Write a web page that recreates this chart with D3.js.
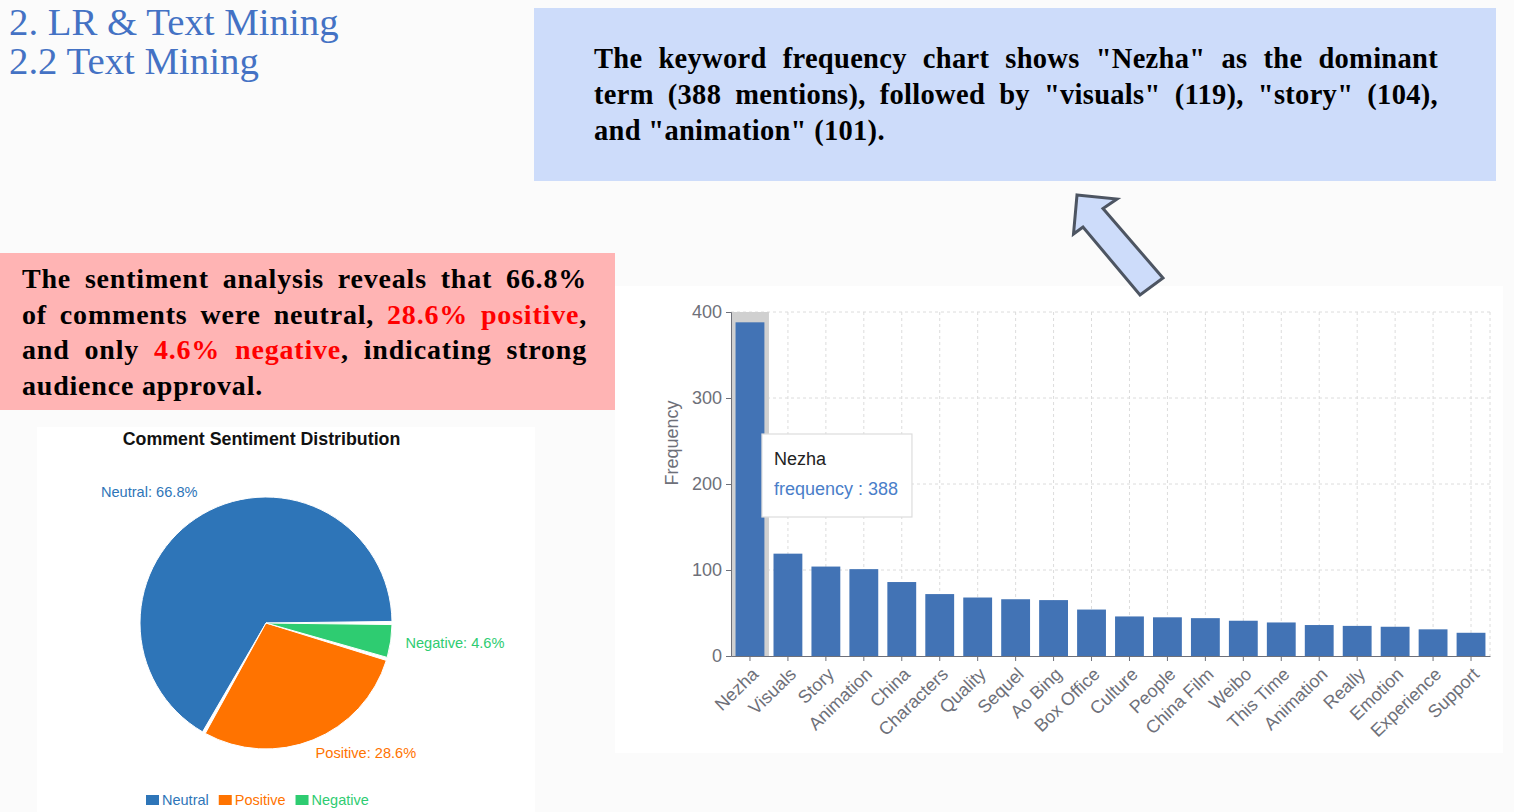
<!DOCTYPE html>
<html><head><meta charset="utf-8">
<script src="https://cdn.jsdelivr.net/npm/d3@7/dist/d3.min.js"></script>
<style>html,body{margin:0;padding:0;background:#fbfbfb;overflow:hidden}</style>
</head><body>
<svg id="c" width="1514" height="812"></svg>
<script>
// ---------- data ----------
const keywords = ["Nezha","Visuals","Story","Animation","China","Characters","Quality","Sequel","Ao Bing","Box Office","Culture","People","China Film","Weibo","This Time","Animation","Really","Emotion","Experience","Support"];
const frequencies = [388,119,104,101,86,72,68,66,65,54,46,45,44,41,39,36,35,34,31,27];
const yTicks = [0,100,200,300,400];
const sentimentLabels = ["Neutral","Positive","Negative"];
const sentimentValues = [66.8,28.6,4.6];
const sentimentColors = ["#2e75b8","#ff7300","#2ecc71"];
const headerLines = ["2. LR & Text Mining","2.2 Text Mining"];
const blueLines = ['The keyword frequency chart shows "Nezha" as the dominant','term (388 mentions), followed by "visuals" (119), "story" (104),','and "animation" (101).'];
const pinkLines = ['The sentiment analysis reveals that 66.8%','of comments were neutral, [28.6% positive],','and only [4.6% negative], indicating strong','audience approval.'];

const svg = d3.select("#c");
const SANS = "'Liberation Sans', Arial, Helvetica, sans-serif";
const SERIF = "'Liberation Serif', 'Times New Roman', serif";

// ---------- panels ----------
svg.append("rect").attr("x",615).attr("y",286).attr("width",888).attr("height",467).attr("fill","#ffffff");
svg.append("rect").attr("x",37).attr("y",427).attr("width",498).attr("height",385).attr("fill","#ffffff");

// ---------- header ----------
svg.selectAll("text.hdr").data(headerLines).join("text").attr("class","hdr")
  .attr("x",9).attr("y",(d,i)=>34.8+i*39.5)
  .attr("font-family",SERIF).attr("font-size",38.8).attr("fill","#4472c4").text(d=>d);

// ---------- justified text helper ----------
function parseLine(s){
  const words=[]; let cur=[]; let red=false; let buf="";
  const flush=()=>{ if(buf){cur.push({t:buf,red}); buf="";} };
  for(const ch of s){
    if(ch==='['){flush();red=true;}
    else if(ch===']'){flush();red=false;}
    else if(ch===' '){flush(); if(cur.length){words.push(cur);cur=[];}}
    else buf+=ch;
  }
  flush(); if(cur.length) words.push(cur);
  return words;
}
function paragraph(lines, x0, width, y0, lh, fs, ls){
  const g = svg.append("g");
  lines.forEach((line,li)=>{
    const words = parseLine(line);
    const justify = li < lines.length-1;
    const nodes = words.map(w=>{
      const t = g.append("text").attr("y",y0+li*lh)
        .attr("font-family",SERIF).attr("font-weight","bold").attr("font-size",fs)
        .attr("letter-spacing",ls).attr("fill","#000");
      w.forEach(p=>t.append("tspan").attr("fill",p.red?"#ff0000":"#000").text(p.t));
      return t;
    });
    const widths = nodes.map(n=>n.node().getComputedTextLength());
    const total = d3.sum(widths);
    const gap = justify ? (width-total)/(nodes.length-1) : fs*0.25+ls;
    let x = x0;
    nodes.forEach((n,i)=>{ n.attr("x",x); x += widths[i]+gap; });
  });
}

// ---------- blue box ----------
svg.append("rect").attr("x",534).attr("y",8).attr("width",962).attr("height",173).attr("fill","#cddcfa");
paragraph(blueLines, 594, 844, 68, 36, 28.5, 0.3);

// ---------- pink box ----------
svg.append("rect").attr("x",0).attr("y",253).attr("width",615).attr("height",157).attr("fill","#ffb4b4");
paragraph(pinkLines, 22, 565, 288, 35.5, 28, 0.8);

// ---------- arrow ----------
svg.append("path")
  .attr("d","M1077,195 L1117,199 L1103,208.5 L1163,278 L1140,295 L1083,227 L1073.5,234 Z")
  .attr("fill","#cddcfa").attr("stroke","#4d5562").attr("stroke-width",3).attr("stroke-linejoin","miter");

// ---------- bar chart ----------
const bx0=731, bx1=1490, by0=656, by1=312;
const x = d3.scaleBand().domain(d3.range(keywords.length)).range([bx0,bx1]).paddingInner(0.24).paddingOuter(0.12);
const y = d3.scaleLinear().domain([0,400]).range([by0,by1]);
const step = x.step();
const cx = i => x(i)+x.bandwidth()/2;

const grid = svg.append("g").attr("stroke","#dcdcdc").attr("stroke-dasharray","3,3").attr("stroke-width",1);
yTicks.filter(v=>v>0).forEach(v=>grid.append("line").attr("x1",bx0).attr("x2",bx1).attr("y1",y(v)).attr("y2",y(v)));
d3.range(keywords.length).forEach(i=>grid.append("line").attr("x1",cx(i)).attr("x2",cx(i)).attr("y1",by1).attr("y2",by0));
grid.append("line").attr("x1",bx1).attr("x2",bx1).attr("y1",by1).attr("y2",by0);

// hover shadow on the first category
svg.append("rect").attr("x",cx(0)-step/2).attr("y",y(400)).attr("width",step).attr("height",by0-y(400)).attr("fill","#d0d0d0");

svg.append("g").selectAll("rect").data(frequencies).join("rect")
  .attr("x",(d,i)=>x(i)).attr("width",x.bandwidth())
  .attr("y",d=>y(d)).attr("height",d=>by0-y(d)).attr("fill","#4273b5");

const yAxis = svg.append("g").attr("transform",`translate(${bx0},0)`)
  .call(d3.axisLeft(y).tickValues(yTicks).tickSize(5).tickPadding(4));
yAxis.select(".domain").attr("stroke","#6e7079");
yAxis.selectAll(".tick line").attr("stroke","#6e7079");
yAxis.selectAll("text").attr("font-family",SANS).attr("font-size",18).attr("fill","#6e7079");

const xAxis = svg.append("g").attr("transform",`translate(0,${by0})`)
  .call(d3.axisBottom(x).tickFormat(i=>keywords[i]).tickSize(5).tickSizeOuter(0));
xAxis.select(".domain").attr("stroke","#6e7079");
xAxis.selectAll(".tick line").attr("stroke","#6e7079");
xAxis.selectAll("text").attr("font-family",SANS).attr("font-size",18).attr("fill","#6e7079")
  .attr("text-anchor","end").attr("x",0).attr("y",0).attr("dy","0.35em")
  .attr("transform","translate(5,15) rotate(-44)");

svg.append("text").attr("transform","translate(678,443) rotate(-90)").attr("text-anchor","middle")
  .attr("font-family",SANS).attr("font-size",18).attr("fill","#6e7079").text("Frequency");

// tooltip
const tx = cx(0)+step/2-7, ty = 434;
svg.append("rect").attr("x",tx).attr("y",ty).attr("width",150).attr("height",83)
  .attr("fill","#ffffff").attr("stroke","#dddddd").attr("stroke-width",1.2);
svg.append("text").attr("x",tx+12).attr("y",ty+31).attr("font-family",SANS).attr("font-size",18).attr("fill","#222").text(keywords[0]);
svg.append("text").attr("x",tx+12).attr("y",ty+61).attr("font-family",SANS).attr("font-size",18).attr("fill","#4a7ec9").text("frequency : "+frequencies[0]);

// ---------- pie chart ----------
const pc = {x:266, y:623}, R = 126;
svg.append("text").attr("x",261.5).attr("y",445).attr("text-anchor","middle")
  .attr("font-family",SANS).attr("font-weight","bold").attr("font-size",17.8).attr("fill","#111")
  .text("Comment Sentiment Distribution");
const pie = d3.pie().sort(null).startAngle(Math.PI/2).endAngle(Math.PI/2-2*Math.PI);
const arcs = pie(sentimentValues);
const arc = d3.arc().innerRadius(0).outerRadius(R).padAngle(0.025);
const pg = svg.append("g").attr("transform",`translate(${pc.x},${pc.y})`);
pg.selectAll("path").data(arcs).join("path").attr("d",arc)
  .attr("fill",(d,i)=>sentimentColors[i]).attr("stroke","#fff").attr("stroke-width",1);
pg.selectAll("text").data(arcs).join("text")
  .each(function(d,i){
    const a = (d.startAngle+d.endAngle)/2, r = 146;
    const px = Math.sin(a)*r, py = -Math.cos(a)*r;
    d3.select(this).attr("x",px+(px<0?5:-5)).attr("y",py-6*Math.abs(Math.cos(a))).attr("dy","0.35em")
      .attr("text-anchor",px<0?"end":"start");
  })
  .attr("font-family",SANS).attr("font-size",14.6).attr("fill",(d,i)=>sentimentColors[i])
  .text((d,i)=>`${sentimentLabels[i]}: ${sentimentValues[i]}%`);

// legend
const lg = svg.append("g");
let lx = 146;
sentimentLabels.forEach((l,i)=>{
  lg.append("rect").attr("x",lx).attr("y",795).attr("width",13).attr("height",10).attr("fill",sentimentColors[i]);
  const t = lg.append("text").attr("x",lx+16).attr("y",805).attr("font-family",SANS).attr("font-size",14.5)
    .attr("fill",sentimentColors[i]).text(l);
  lx += 16 + t.node().getComputedTextLength() + 10;
});
</script>
</body></html>
